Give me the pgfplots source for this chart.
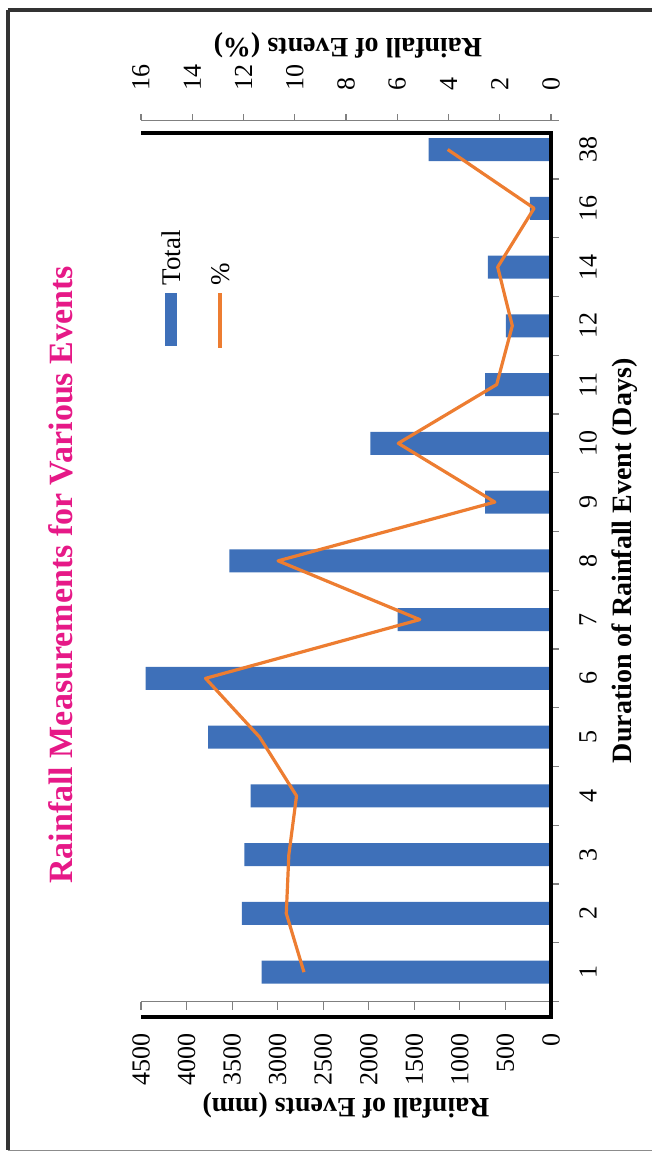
\documentclass[border=0pt]{standalone}
\usepackage{fontspec}
\setmainfont{Liberation Serif}
\usepackage{pgfplots}
\pgfplotsset{compat=1.18}
\definecolor{barblue}{RGB}{62,112,185}
\definecolor{lineorange}{RGB}{237,125,49}
\definecolor{titlepink}{RGB}{230,25,135}
\begin{document}
\begin{tikzpicture}
\path[use as bounding box] (0,0) rectangle (326pt,576pt);
% outer border
\draw[line width=2pt, black!80] (3.75pt,1pt) -- (3.75pt,571pt);
\draw[line width=2pt, black!80] (3.75pt,571pt) -- (326pt,571pt);
\draw[line width=0.8pt, black!45] (3.75pt,0.8pt) -- (326pt,0.8pt);

\begin{axis}[
  at={(173pt,295.575pt)}, anchor=center,
  width=205pt, height=440.7pt, scale only axis,
  xbar, bar width=11.5pt,
  x dir=reverse,
  xmin=0, xmax=4500,
  ymin=-0.5, ymax=14.5,
  axis x line*=bottom, axis y line*=right,
  x axis line style={gray, line width=0.6pt, -},
  y axis line style={draw=none},
  xtick={0,500,...,4500},
  ytick={-0.5,0.5,...,14.5},
  y tick label as interval,
  yticklabels={1,2,3,4,5,6,7,8,9,10,11,12,14,16,38},
  tick align=outside,
  major tick length=4pt,
  tick style={gray, line width=0.6pt},
  scaled x ticks=false,
  /pgf/number format/1000 sep={},
  /pgf/number format/assume math mode=true,
  xticklabel style={rotate=90, anchor=east, inner sep=0pt, font=\fontsize{13}{13}\selectfont},
  yticklabel style={rotate=90, anchor=north, inner sep=0pt, font=\fontsize{13}{13}\selectfont},
  xticklabel shift=11.65pt,
  yticklabel shift=10pt,
]
\addplot[fill=barblue, draw=none] coordinates {
 (3175,0) (3394,1) (3365,2) (3296,3) (3763,4) (4449,5) (1683,6) (3529,7)
 (723,8) (1982,9) (723,10) (496,11) (693,12) (233,13) (1343,14)};
\end{axis}

\begin{axis}[
  at={(173pt,295.575pt)}, anchor=center,
  width=205pt, height=440.7pt, scale only axis,
  x dir=reverse,
  xmin=0, xmax=16,
  ymin=-0.5, ymax=14.5,
  axis x line*=top, axis y line=none, ytick=\empty,
  x axis line style={gray, line width=0.6pt, -},
  xtick={0,2,...,16},
  tick align=outside,
  major tick length=3pt,
  tick style={gray, line width=0.6pt},
  /pgf/number format/assume math mode=true,
  xticklabel style={rotate=90, anchor=west, inner sep=0pt, font=\fontsize{13}{13}\selectfont},
  xticklabel shift=11.65pt,
]
\addplot[lineorange, line width=1.6pt, line join=round] coordinates {
 (9.64,0) (10.33,1) (10.23,2) (9.93,3) (11.37,4) (13.48,5) (5.12,6) (10.65,7)
 (2.19,8) (5.96,9) (2.12,10) (1.51,11) (2.08,12) (0.66,13) (4.03,14)};
\end{axis}

% thick frame
\draw[line width=1.75pt, line join=miter] (70.5pt,509.5pt) -- (275.5pt,509.5pt) -- (275.5pt,67.5pt) -- (70.5pt,67.5pt);

% titles
\node[rotate=90, inner sep=0pt, text=titlepink, font=\bfseries\fontsize{17}{17}\selectfont] at (30.5pt,288.5pt) {Rainfall Measurements for Various Events};
\node[rotate=90, inner sep=0pt, font=\bfseries\fontsize{14}{14}\selectfont] at (312.5pt,295.6pt) {Duration of Rainfall Event (Days)};
\node[rotate=180, inner sep=0pt, font=\bfseries\fontsize{14}{14}\selectfont] at (173pt,23.5pt) {Rainfall of Events (mm)};
\node[rotate=180, inner sep=0pt, font=\bfseries\fontsize{14}{14}\selectfont] at (174pt,553.5pt) {Rainfall of Events (\%)};

% legend
\fill[barblue] (82.5pt,403pt) rectangle (88.5pt,429.5pt);
\node[rotate=90, anchor=west, inner sep=0pt, font=\fontsize{13.5}{13.5}\selectfont] at (85.5pt,433pt) {Total};
\draw[lineorange, line width=1.6pt] (110pt,402pt) -- (110pt,429.5pt);
\node[rotate=90, anchor=west, inner sep=0pt, font=\fontsize{13.5}{13.5}\selectfont] at (110.5pt,433pt) {\%};
\end{tikzpicture}
\end{document}
